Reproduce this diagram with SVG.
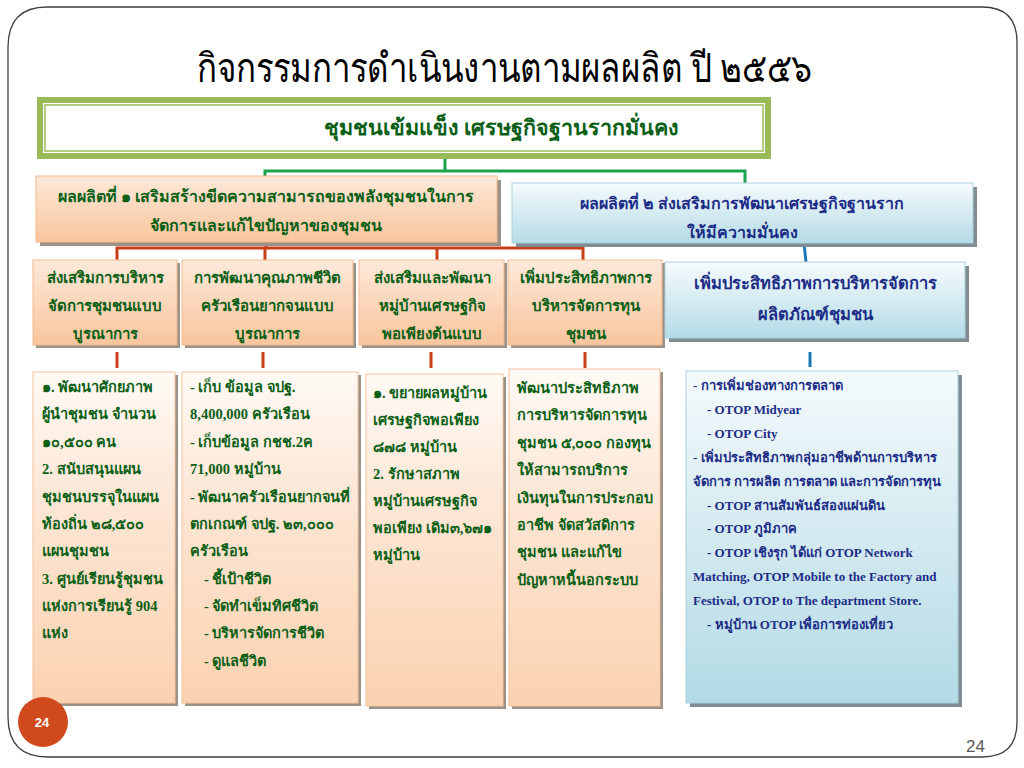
<svg xmlns="http://www.w3.org/2000/svg" width="1024" height="768" viewBox="0 0 1024 768">
<defs>
<linearGradient id="peach" x1="0" y1="0" x2="0" y2="1">
<stop offset="0" stop-color="#fde9da"/>
<stop offset="1" stop-color="#f9c59c"/>
</linearGradient>
<linearGradient id="peachTall" x1="0" y1="0" x2="0" y2="1">
<stop offset="0" stop-color="#fffaf6"/>
<stop offset="0.35" stop-color="#fde8d8"/>
<stop offset="1" stop-color="#fbd2b0"/>
</linearGradient>
<linearGradient id="blue" x1="0" y1="0" x2="0" y2="1">
<stop offset="0" stop-color="#f6fbfd"/>
<stop offset="1" stop-color="#b4dbe7"/>
</linearGradient>
<linearGradient id="blueTall" x1="0" y1="0" x2="0" y2="1">
<stop offset="0" stop-color="#f4fafc"/>
<stop offset="1" stop-color="#b3dae6"/>
</linearGradient>
</defs>
<style>
.frame{fill:#fff;stroke:#3f3f3f;stroke-width:1.3}
.sh{fill:#9a9189}
.shb{fill:#7f8d92}
.pb{fill:url(#peach);stroke:#f3b98c;stroke-width:1}
.pt{fill:url(#peachTall);stroke:#f3c29c;stroke-width:1}
.bb{fill:url(#blue);stroke:#a9cfdc;stroke-width:1}
.bt{fill:url(#blueTall);stroke:#a9cfdc;stroke-width:1}
.g{font-family:"Liberation Serif","Noto Sans",serif;font-weight:bold;fill:#0b6016}
.n{font-family:"Liberation Serif","Noto Sans",serif;font-weight:bold;fill:#1c2c86}
.c{text-anchor:middle}
.red{stroke:#c8401a;stroke-width:3;fill:none}
.grn{stroke:#1aa34a;stroke-width:3;fill:none}
.blu{stroke:#1f78b4;stroke-width:3;fill:none}
</style>
<rect x="0" y="0" width="1024" height="768" fill="#fff"/>
<path class="frame" d="M47,7 H982 Q1017,7 1017,42 V722 Q1017,757 982,757 H48 Q8,757 8,717 V47 Q8,7 47,7 Z"/>
<text x="197" y="82" textLength="615" lengthAdjust="spacingAndGlyphs" style="font-family:'Noto Sans','Liberation Sans',sans-serif;font-size:40px;fill:#000">กิจกรรมการดำเนินงานตามผลผลิต ปี ๒๕๕๖</text>

<g id="connectors">
<path class="grn" d="M445,159 V171 M265,176 V171 H745 V183"/>
<path class="red" d="M266,242 V248 M117,261 V248 H583 V261 M265,248 V261 M437,248 V261"/>
<path class="blu" d="M804,243 L806,262"/>
<path class="red" d="M117,352 V368 M263,352 V368 M431,352 V368 M585,352 V368"/>
<path class="blu" d="M810,352 V367"/>
</g>

<g id="top">
<rect x="40" y="100" width="728" height="56" fill="#fff" stroke="#9bbb59" stroke-width="6"/>
<rect x="45" y="105" width="718" height="46" fill="none" stroke="#9bbb59" stroke-width="1.5"/>
<text x="501" y="135" class="g c" style="font-size:21.5px">ชุมชนเข้มแข็ง เศรษฐกิจฐานรากมั่นคง</text>
</g>

<g id="output1">
<rect x="40" y="180" width="461" height="66" class="sh"/>
<rect x="36" y="176" width="461" height="66" class="pb"/>
<text x="266" y="202" class="g c" style="font-size:16px">ผลผลิตที่ ๑ เสริมสร้างขีดความสามารถของพลังชุมชนในการ</text>
<text x="266" y="231" class="g c" style="font-size:16px">จัดการและแก้ไขปัญหาของชุมชน</text>
</g>

<g id="output2">
<rect x="516" y="187" width="461" height="60" class="shb"/>
<rect x="512" y="183" width="461" height="60" class="bb"/>
<text x="742" y="209" class="n c" style="font-size:16px">ผลผลิตที่ ๒ ส่งเสริมการพัฒนาเศรษฐกิจฐานราก</text>
<text x="742" y="238" class="n c" style="font-size:16px">ให้มีความมั่นคง</text>
</g>

<g id="a1">
<rect x="36" y="263" width="144" height="85" class="sh"/>
<rect x="33" y="260" width="144" height="85" class="pb"/>
<text class="g c" style="font-size:15px"><tspan x="105" y="283">ส่งเสริมการบริหาร</tspan><tspan x="105" y="311">จัดการชุมชนแบบ</tspan><tspan x="105" y="339">บูรณาการ</tspan></text>
</g>
<g id="a2">
<rect x="185" y="263" width="171" height="85" class="sh"/>
<rect x="182" y="260" width="171" height="85" class="pb"/>
<text class="g c" style="font-size:15px"><tspan x="267" y="283">การพัฒนาคุณภาพชีวิต</tspan><tspan x="267" y="311">ครัวเรือนยากจนแบบ</tspan><tspan x="267" y="339">บูรณาการ</tspan></text>
</g>
<g id="a3">
<rect x="362" y="263" width="145" height="85" class="sh"/>
<rect x="359" y="260" width="145" height="85" class="pb"/>
<text class="g c" style="font-size:15px"><tspan x="432" y="283">ส่งเสริมและพัฒนา</tspan><tspan x="432" y="311">หมู่บ้านเศรษฐกิจ</tspan><tspan x="432" y="339">พอเพียงต้นแบบ</tspan></text>
</g>
<g id="a4">
<rect x="511" y="263" width="154" height="85" class="sh"/>
<rect x="508" y="260" width="154" height="85" class="pb"/>
<text class="g c" style="font-size:15px"><tspan x="586" y="283">เพิ่มประสิทธิภาพการ</tspan><tspan x="586" y="311">บริหารจัดการทุน</tspan><tspan x="586" y="339">ชุมชน</tspan></text>
</g>
<g id="b1">
<rect x="669" y="266" width="300" height="76" class="shb"/>
<rect x="665" y="262" width="300" height="76" class="bb"/>
<text class="n c" style="font-size:16.5px"><tspan x="815" y="289">เพิ่มประสิทธิภาพการบริหารจัดการ</tspan><tspan x="815" y="320">ผลิตภัณฑ์ชุมชน</tspan></text>
</g>

<g id="d1">
<rect x="36" y="375" width="142" height="331" class="sh"/>
<rect x="33" y="372" width="142" height="331" class="pt"/>
<text class="g" style="font-size:14.5px"><tspan x="42" y="392">๑. พัฒนาศักยภาพ</tspan><tspan x="42" y="419">ผู้นำชุมชน จำนวน</tspan><tspan x="42" y="447">๑๐,๕๐๐ คน</tspan><tspan x="42" y="474">2. สนับสนุนแผน</tspan><tspan x="42" y="502">ชุมชนบรรจุในแผน</tspan><tspan x="42" y="529">ท้องถิ่น ๒๘,๕๐๐</tspan><tspan x="42" y="556">แผนชุมชน</tspan><tspan x="42" y="584">3. ศูนย์เรียนรู้ชุมชน</tspan><tspan x="42" y="611">แห่งการเรียนรู้ 904</tspan><tspan x="42" y="638">แห่ง</tspan></text>
</g>
<g id="d2">
<rect x="185" y="375" width="176" height="331" class="sh"/>
<rect x="182" y="372" width="176" height="331" class="pt"/>
<text class="g" style="font-size:14.5px"><tspan x="190" y="392">- เก็บ ข้อมูล จปฐ.</tspan><tspan x="190" y="419">8,400,000 ครัวเรือน</tspan><tspan x="190" y="447">- เก็บข้อมูล กชช.2ค</tspan><tspan x="190" y="474">71,000 หมู่บ้าน</tspan><tspan x="190" y="502">- พัฒนาครัวเรือนยากจนที่</tspan><tspan x="190" y="529">ตกเกณฑ์ จปฐ. ๒๓,๐๐๐</tspan><tspan x="190" y="556">ครัวเรือน</tspan><tspan x="204" y="584">- ชี้เป้าชีวิต</tspan><tspan x="204" y="611">- จัดทำเข็มทิศชีวิต</tspan><tspan x="204" y="638">- บริหารจัดการชีวิต</tspan><tspan x="204" y="666">- ดูแลชีวิต</tspan></text>
</g>
<g id="d3">
<rect x="369" y="377" width="137" height="332" class="sh"/>
<rect x="366" y="374" width="137" height="332" class="pt"/>
<text class="g" style="font-size:14.5px"><tspan x="373" y="398">๑. ขยายผลหมู่บ้าน</tspan><tspan x="373" y="425">เศรษฐกิจพอเพียง</tspan><tspan x="373" y="452">๘๗๘ หมู่บ้าน</tspan><tspan x="373" y="479">2. รักษาสภาพ</tspan><tspan x="373" y="506">หมู่บ้านเศรษฐกิจ</tspan><tspan x="373" y="533">พอเพียง เดิม๓,๖๗๑</tspan><tspan x="373" y="560">หมู่บ้าน</tspan></text>
</g>
<g id="d4">
<rect x="512" y="372" width="151" height="337" class="sh"/>
<rect x="509" y="369" width="151" height="337" class="pt"/>
<text class="g" style="font-size:14.5px"><tspan x="517" y="393">พัฒนาประสิทธิภาพ</tspan><tspan x="517" y="420">การบริหารจัดการทุน</tspan><tspan x="517" y="448">ชุมชน ๕,๐๐๐ กองทุน</tspan><tspan x="517" y="475">ให้สามารถบริการ</tspan><tspan x="517" y="503">เงินทุนในการประกอบ</tspan><tspan x="517" y="530">อาชีพ จัดสวัสดิการ</tspan><tspan x="517" y="557">ชุมชน และแก้ไข</tspan><tspan x="517" y="585">ปัญหาหนี้นอกระบบ</tspan></text>
</g>
<g id="e1">
<rect x="690" y="375" width="272" height="332" class="shb"/>
<rect x="686" y="371" width="272" height="332" class="bt"/>
<text class="n" style="font-size:13px"><tspan x="693" y="390">- การเพิ่มช่องทางการตลาด</tspan><tspan x="707" y="414">- OTOP Midyear</tspan><tspan x="707" y="438">- OTOP City</tspan><tspan x="693" y="462">- เพิ่มประสิทธิภาพกลุ่มอาชีพด้านการบริหาร</tspan><tspan x="693" y="486">จัดการ การผลิต การตลาด และการจัดการทุน</tspan><tspan x="707" y="510">- OTOP สานสัมพันธ์สองแผ่นดิน</tspan><tspan x="707" y="533">- OTOP ภูมิภาค</tspan><tspan x="707" y="557">- OTOP เชิงรุก ได้แก่  OTOP Network</tspan><tspan x="693" y="581">Matching, OTOP Mobile to the Factory and</tspan><tspan x="693" y="605">Festival, OTOP to The department Store.</tspan><tspan x="707" y="629">- หมู่บ้าน OTOP เพื่อการท่องเที่ยว</tspan></text>
</g>

<g id="badge">
<circle cx="43" cy="722" r="25" fill="#d04a1e"/>
<text x="42" y="727" class="c" style="font-family:'Liberation Sans',sans-serif;font-weight:bold;font-size:13px;fill:#fff">24</text>
</g>
<text x="985" y="752" text-anchor="end" style="font-family:'Liberation Sans',sans-serif;font-size:17px;fill:#595959">24</text>
</svg>
